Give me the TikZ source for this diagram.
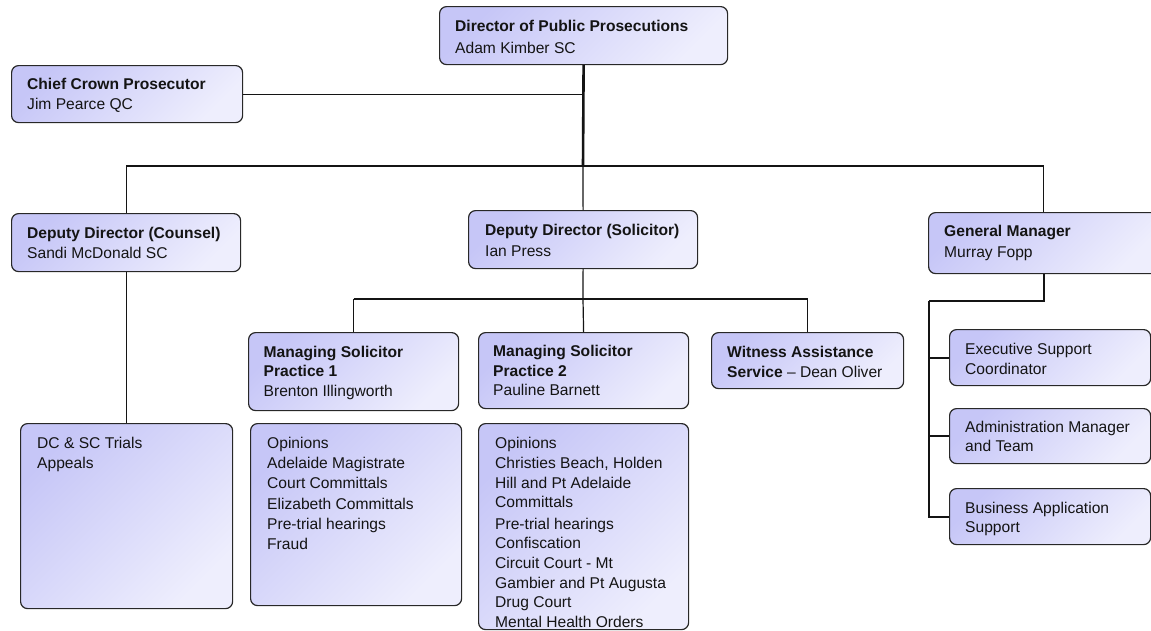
\documentclass[tikz,border=0pt]{standalone}
\usepackage{fontspec}
\setmainfont{Liberation Sans}
\definecolor{boxA}{RGB}{198,198,247}
\definecolor{boxB}{RGB}{238,238,253}
\definecolor{edge}{RGB}{40,40,40}
\definecolor{ink}{RGB}{20,20,20}
\tikzset{
  box/.style={draw=edge, line width=1.2pt, rounded corners=7pt, top color=boxA, bottom color=boxB, shading angle=45, anchor=north west, inner sep=0pt},
  txt/.style={anchor=north west, inner sep=0pt, align=left, text=ink, font=\fontsize{15.6}{19.7}\selectfont},
  listtxt/.style={txt, font=\fontsize{15.6}{20.2}\selectfont},
  link/.style={line width=1.2pt, draw=ink},
  gmlink/.style={line width=2pt, draw=ink},
  trunk/.style={line width=2.6pt, draw=ink},
}
\begin{document}
\begin{tikzpicture}[x=1pt,y=-1pt]
\useasboundingbox (0,0) rectangle (1151,630);
\fill[white] (0,0) rectangle (1151,630);
\clip (0,0) rectangle (1151,630);

% boxes
\node[box, minimum width=288pt, minimum height=58pt] (dpp) at (439,6) {};
\node[txt] (dppT) at (455,20) {\textbf{Director of Public Prosecutions}\\[2pt]Adam Kimber SC};

\node[box, minimum width=231pt, minimum height=57pt] (chief) at (11,65) {};
\node[txt] (chiefT) at (27,77.5) {\textbf{Chief Crown Prosecutor}\\[1pt]Jim Pearce QC};

\node[box, minimum width=229pt, minimum height=58pt] (counsel) at (11,213) {};
\node[txt] (counselT) at (27,227) {\textbf{Deputy Director (Counsel)}\\Sandi McDonald SC};

\node[box, minimum width=229pt, minimum height=58pt] (depsol) at (468,210) {};
\node[txt] (depsolT) at (485,224) {\textbf{Deputy Director (Solicitor)}\\[1pt]Ian Press};

\node[box, minimum width=230pt, minimum height=61pt] (gm) at (928,212) {};
\node[txt] (gmT) at (944,225) {\textbf{General Manager}\\[1pt]Murray Fopp};

\node[box, minimum width=210pt, minimum height=78pt] (p1) at (248,332) {};
\node[txt] (p1T) at (263.5,345.5) {\textbf{Managing Solicitor}\\\textbf{Practice 1}\\Brenton Illingworth};

\node[box, minimum width=210pt, minimum height=76pt] (p2) at (478,332) {};
\node[txt] (p2T) at (493,345) {\textbf{Managing Solicitor}\\\textbf{Practice 2}\\Pauline Barnett};

\node[box, minimum width=192pt, minimum height=56pt] (wit) at (711,332) {};
\node[txt] (witT) at (727,346) {\textbf{Witness Assistance}\\\textbf{Service} -- Dean Oliver};

\node[box, minimum width=212pt, minimum height=185pt] (dcsc) at (20,423) {};
\node[listtxt] (dcscT) at (37,437) {DC \& SC Trials\\Appeals};

\node[box, minimum width=211pt, minimum height=182pt] (p1list) at (250,423) {};
\node[listtxt] (p1listT) at (267,437) {Opinions\\Adelaide Magistrate\\Court Committals\\Elizabeth Committals\\Pre-trial hearings\\Fraud};

\node[box, minimum width=210pt, minimum height=206pt] (p2list) at (478,423) {};
\node[txt] (p2listT) at (495,437.3) {Opinions\\Christies Beach, Holden\\Hill and Pt Adelaide\\Committals\\[1.5pt]Pre-trial hearings\\Confiscation\\Circuit Court - Mt\\Gambier and Pt Augusta\\Drug Court\\Mental Health Orders};

\node[box, minimum width=201pt, minimum height=56pt] (exec) at (949,329) {};
\node[txt] (execT) at (965,343) {Executive Support\\Coordinator};

\node[box, minimum width=201pt, minimum height=55pt] (admin) at (949,408) {};
\node[txt] (adminT) at (965,420.5) {Administration Manager\\and Team};

\node[box, minimum width=201pt, minimum height=56pt] (bus) at (949,488) {};
\node[txt] (busT) at (965,501.5) {Business Application\\Support};

% junctions
\coordinate (jMain) at (583,166);
\coordinate (jSol) at (583,299);
\coordinate (rail) at (929,301);

% connectors
\draw[link] (chief.east) -- (chief.east -| dpp.south);
\draw[link] (counsel.north |- jMain) -- (gm.north |- jMain);
\draw[link] (counsel.north |- jMain) -- (counsel.north);
\draw[link] (jMain) -- (depsol.north);
\draw[link] (gm.north |- jMain) -- (gm.north);
\draw[link] (counsel.south) -- (counsel.south |- dcsc.north);
\draw[trunk] (dpp.south) -- (jMain);

\draw[link] (depsol.south) -- (jSol);
\draw[link] (p1.north |- jSol) -- (wit.north |- jSol);
\draw[link] (p1.north |- jSol) -- (p1.north);
\draw[link] (jSol) -- (p2.north);
\draw[link] (wit.north |- jSol) -- (wit.north);

\draw[gmlink] (gm.south) |- (rail);
\draw[gmlink] (rail) |- (bus.west);
\draw[gmlink] (exec.west -| rail) -- (exec.west);
\draw[gmlink] (admin.west -| rail) -- (admin.west);
\end{tikzpicture}
\end{document}
